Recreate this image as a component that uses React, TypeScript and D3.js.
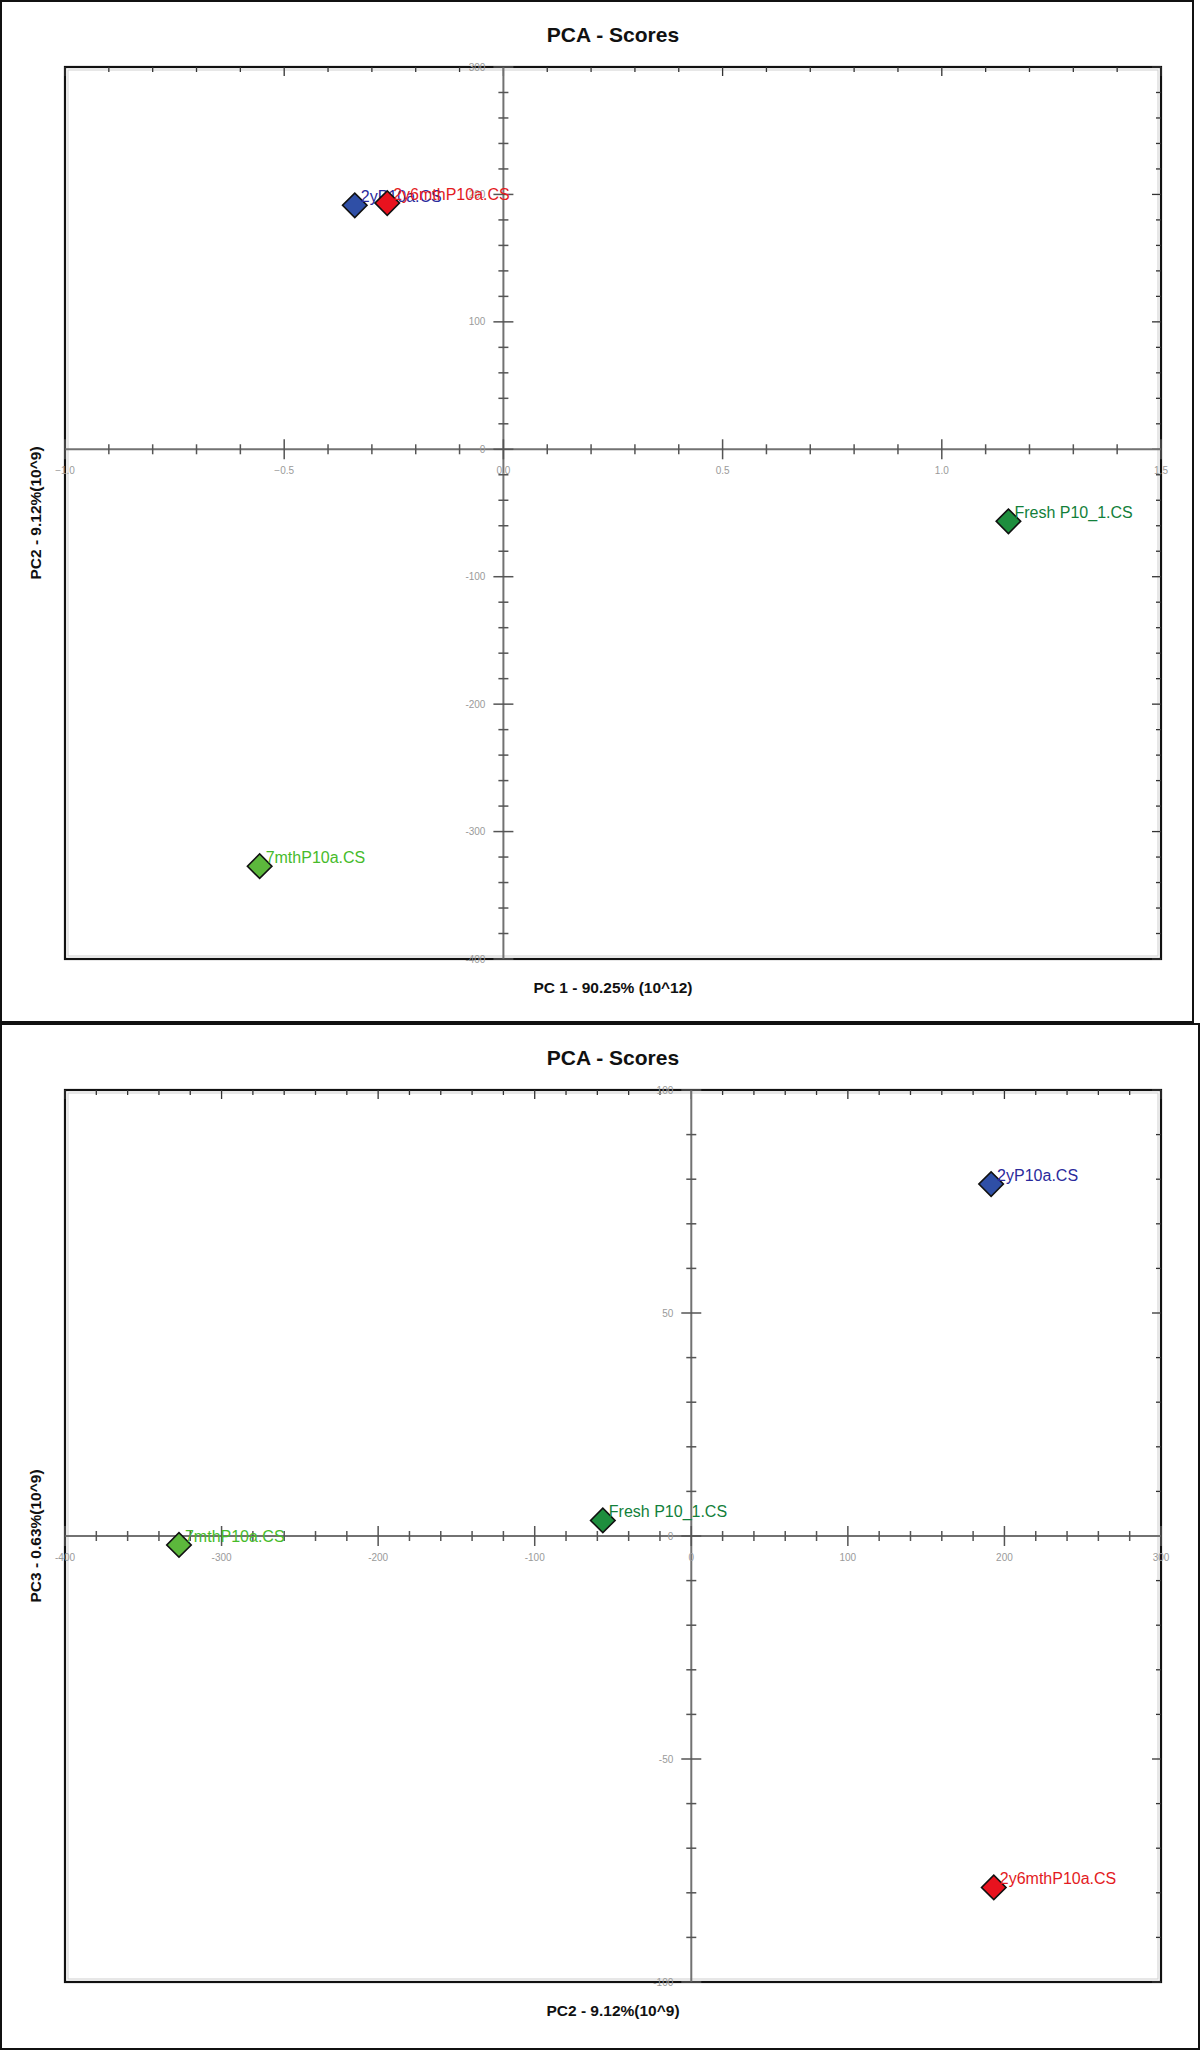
import React from 'react';
import * as d3 from 'd3';

// PCA scores
const SAMPLES = ['2yP10a.CS', '2y6mthP10a.CS', 'Fresh P10_1.CS', '7mthP10a.CS'];
const PC1 = [-0.339, -0.265, 1.152, -0.556];
const PC2 = [191.5, 193.2, -56.5, -327.2];
const PC3 = [78.9, -78.8, 3.5, -2.0];

const PC1_TICKS = [-1.0, -0.5, 0.0, 0.5, 1.0, 1.5];
const PC2_TICKS = [-400, -300, -200, -100, 0, 100, 200, 300];
const PC3_TICKS = [-100, -50, 0, 50, 100];

const MARKER_FILL = ['#2f4fa6', '#e8121e', '#1e8e3e', '#5cb83c'];
const LABEL_FILL = ['#2a2a9c', '#e31a22', '#12803a', '#46bb2a'];

const FONT = '"Liberation Sans", Arial, Helvetica, sans-serif';

interface PlotProps {
  offsetY: number;
  width: number;
  height: number;
  xs: number[];
  ys: number[];
  xDomain: [number, number];
  yDomain: [number, number];
  xTicks: number[];
  yTicks: number[];
  xMinorCount: number;
  yMinorCount: number;
  xFormat: (d: number) => string;
  xLabel: string;
  yLabel: string;
}

const ScorePlot: React.FC<PlotProps> = ({
  offsetY, width, height, xs, ys, xDomain, yDomain,
  xTicks, yTicks, xMinorCount, yMinorCount, xFormat, xLabel, yLabel,
}) => {
  const left = 65, right = 1161, top = 67, bottom = 959;
  const x = d3.scaleLinear().domain(xDomain).range([left, right]);
  const y = d3.scaleLinear().domain(yDomain).range([bottom, top]);
  const x0 = x(0);
  const y0 = y(0);
  const xMinor = x.ticks(xMinorCount);
  const yMinor = y.ticks(yMinorCount);
  const isMajor = (ticks: number[], v: number) => ticks.some(t => Math.abs(t - v) < 1e-9);
  const diamond = d3.symbol(d3.symbolSquare, 300)() as string;
  const cx = (left + right) / 2;
  const cy = (top + bottom) / 2;

  return (
    <g transform={`translate(0,${offsetY})`} fontFamily={FONT}>
      <rect x={1} y={1} width={width - 2} height={height - 2} fill="#fff" stroke="#111" strokeWidth={2} />
      <text x={cx} y={42} textAnchor="middle" fontSize={21} fontWeight="bold" fill="#111">PCA - Scores</text>

      {/* plot frame */}
      <rect x={left + 3} y={top + 3} width={right - left - 6} height={bottom - top - 6} fill="none" stroke="#cfcfcf" strokeWidth={1} />
      <rect x={left} y={top} width={right - left} height={bottom - top} fill="none" stroke="#111" strokeWidth={2.2} />

      {/* mirror ticks on the top and right edges */}
      {xMinor.map((t, i) => (
        <line key={`tt${i}`} x1={x(t)} x2={x(t)} y1={top} y2={top + (isMajor(xTicks, t) ? 9 : 5)} stroke="#333" strokeWidth={1.3} />
      ))}
      {yMinor.map((t, i) => (
        <line key={`rt${i}`} x1={right} x2={right - (isMajor(yTicks, t) ? 9 : 5)} y1={y(t)} y2={y(t)} stroke="#333" strokeWidth={1.3} />
      ))}

      {/* zero axes */}
      <line x1={left} x2={right} y1={y0} y2={y0} stroke="#727272" strokeWidth={2} />
      <line x1={x0} x2={x0} y1={top} y2={bottom} stroke="#727272" strokeWidth={2} />
      {xMinor.map((t, i) => {
        const len = isMajor(xTicks, t) ? 10 : 5;
        return <line key={`xa${i}`} x1={x(t)} x2={x(t)} y1={y0 - len} y2={y0 + len} stroke="#555" strokeWidth={1.5} />;
      })}
      {yMinor.map((t, i) => {
        const len = isMajor(yTicks, t) ? 10 : 5;
        return <line key={`ya${i}`} x1={x0 - len} x2={x0 + len} y1={y(t)} y2={y(t)} stroke="#555" strokeWidth={1.5} />;
      })}

      {/* tick labels */}
      {xTicks.map((t, i) => (
        <text key={`xl${i}`} x={x(t)} y={y0 + 25} textAnchor="middle" fontSize={10} fill="#9a9a9a">{xFormat(t)}</text>
      ))}
      {yTicks.map((t, i) => (
        <text key={`yl${i}`} x={x0 - 18} y={y(t)} dy="0.35em" textAnchor="end" fontSize={10} fill="#9a9a9a">{t}</text>
      ))}

      {/* axis titles */}
      <text x={cx} y={bottom + 34} textAnchor="middle" fontSize={15.5} fontWeight="bold" fill="#111">{xLabel}</text>
      <text transform={`translate(41,${cy}) rotate(-90)`} textAnchor="middle" fontSize={15.5} fontWeight="bold" fill="#111">{yLabel}</text>

      {/* scores */}
      {SAMPLES.map((name, i) => (
        <g key={name}>
          <path d={diamond} transform={`translate(${x(xs[i])},${y(ys[i])}) rotate(45)`} fill={MARKER_FILL[i]} stroke="#111" strokeWidth={1.6} />
          <text x={x(xs[i]) + 6} y={y(ys[i]) - 3} fontSize={16} fill={LABEL_FILL[i]}>{name}</text>
        </g>
      ))}
    </g>
  );
};

const App: React.FC = () => {
  const oneDecimal = d3.format('.1f');
  return (
    <svg width={1200} height={2050} style={{ position: 'absolute', left: 0, top: 0, background: '#fff' }}>
      <ScorePlot
        offsetY={0}
        width={1194}
        height={1023}
        xs={PC1}
        ys={PC2}
        xDomain={[-1, 1.5]}
        yDomain={[-400, 300]}
        xTicks={PC1_TICKS}
        yTicks={PC2_TICKS}
        xMinorCount={25}
        yMinorCount={35}
        xFormat={d => oneDecimal(d)}
        xLabel="PC 1 - 90.25% (10^12)"
        yLabel="PC2 - 9.12%(10^9)"
      />
      <ScorePlot
        offsetY={1023}
        width={1200}
        height={1027}
        xs={PC2}
        ys={PC3}
        xDomain={[-400, 300]}
        yDomain={[-100, 100]}
        xTicks={PC2_TICKS}
        yTicks={PC3_TICKS}
        xMinorCount={35}
        yMinorCount={20}
        xFormat={d => String(d)}
        xLabel="PC2 - 9.12%(10^9)"
        yLabel="PC3 - 0.63%(10^9)"
      />
    </svg>
  );
};

export default App;
